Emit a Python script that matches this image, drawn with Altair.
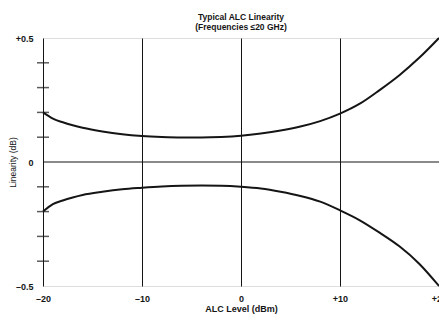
import altair as alt
import pandas as pd

# ALC level (dBm)
levels = [-20, -19, -18, -17, -16, -14, -12, -10, -8, -6, -4, -2, 0, 2, 4, 6, 8, 10, 12, 14, 16, 18, 20]
# Upper linearity limit (dB)
upper = [0.20, 0.175, 0.16, 0.148, 0.138, 0.123, 0.112, 0.105, 0.101, 0.099, 0.099, 0.101, 0.106,
         0.115, 0.127, 0.143, 0.165, 0.195, 0.235, 0.29, 0.35, 0.42, 0.50]
# Lower linearity limit (dB)
lower = [-0.20, -0.17, -0.155, -0.143, -0.133, -0.12, -0.11, -0.104, -0.099, -0.096, -0.095, -0.096, -0.10,
         -0.107, -0.12, -0.137, -0.16, -0.195, -0.235, -0.285, -0.34, -0.41, -0.50]

x_ticks = [-20, -10, 0, 10, 20]
y_ticks = [-0.5, 0, 0.5]
minor_y = [-0.4, -0.3, -0.2, -0.1, 0.1, 0.2, 0.3, 0.4]
zero_line = [0]

rows = []
for i, lv in enumerate(levels):
    rows.append({"level": lv, "lin": upper[i], "curve": "upper"})
    rows.append({"level": lv, "lin": lower[i], "curve": "lower"})
df = pd.DataFrame(rows)

FONT = "Liberation Sans"
INK = "#151515"

xscale = alt.Scale(domain=[-20, 20], nice=False, zero=False)
yscale = alt.Scale(domain=[-0.5, 0.5], nice=False, zero=False)

lines = alt.Chart(df).mark_line(color=INK, strokeWidth=2, interpolate="monotone").encode(
    x=alt.X("level:Q", scale=xscale,
            axis=alt.Axis(values=x_ticks, title="ALC Level (dBm)", grid=True, gridColor=INK,
                          gridOpacity=1, gridWidth=1, ticks=False, domain=False,
                          labelExpr="datum.value > 0 ? '+' + datum.value : (datum.value < 0 ? '\u2013' + abs(datum.value) : '0')",
                          labelFont=FONT, labelFontSize=9, labelFontWeight="bold", labelColor=INK,
                          labelPadding=8, labelFlush=False,
                          titleFont=FONT, titleFontSize=9, titleFontWeight="bold", titleColor=INK,
                          titlePadding=1)),
    y=alt.Y("lin:Q", scale=yscale,
            axis=alt.Axis(values=y_ticks, title="Linearity (dB)", grid=False, ticks=False, domain=False,
                          labelExpr="datum.value == 0.5 ? '+0.5' : (datum.value == -0.5 ? '\u20130.5' : '0')",
                          labelFont=FONT, labelFontSize=9, labelFontWeight="bold", labelColor=INK,
                          labelPadding=10, labelFlush=False,
                          titleFont=FONT, titleFontSize=8.5, titleFontWeight="normal", titleColor=INK,
                          titlePadding=-2)),
    detail="curve:N",
)

zero = alt.Chart(pd.DataFrame({"y": zero_line})).mark_rule(color=INK, strokeWidth=1).encode(
    y=alt.Y("y:Q", scale=yscale)
)

ticks = alt.Chart(pd.DataFrame({"y": minor_y})).mark_tick(
    orient="horizontal", size=12, thickness=1.5, color=INK
).encode(
    y=alt.Y("y:Q", scale=yscale),
    x=alt.value(0),
)

chart = alt.layer(zero, ticks, lines).properties(
    width=396,
    height=248,
    autosize=alt.AutoSizeParams(type="none"),
    padding={"left": 35, "top": 30, "right": 0, "bottom": 29},
    title=alt.Title(["Typical ALC Linearity", "(Frequencies \u226420 GHz)"], font=FONT, fontSize=8.5,
                    fontWeight="bold", color=INK, anchor="middle", offset=3, lineHeight=10),
).configure_view(stroke=INK, strokeWidth=1.5).configure(background="white")

chart.save("out.html", embed_options={"renderer": "svg", "actions": False})
